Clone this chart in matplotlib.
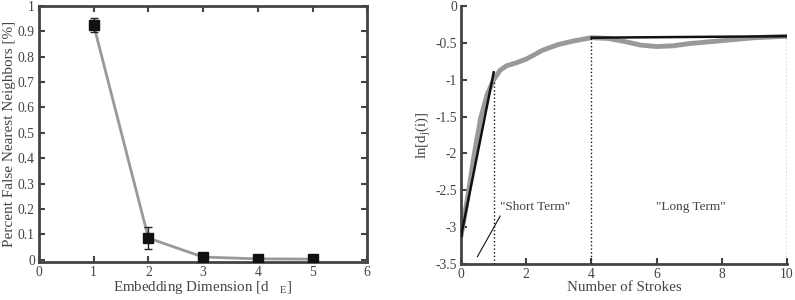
import numpy as np
import matplotlib
matplotlib.use("Agg")
import matplotlib.pyplot as plt

# ---- data ---------------------------------------------------------------
dims = [1, 2, 3, 4, 5]
fnn = [0.925, 0.085, 0.01, 0.003, 0.002]
fnn_err = [0.027, 0.045, 0.0, 0.0, 0.0]

strokes = [0.0, 0.2, 0.4, 0.6, 0.8, 1.0, 1.2, 1.4, 1.7, 2.0, 2.5, 3.0, 3.5,
           4.0, 4.5, 5.0, 5.5, 6.0, 6.5, 7.0, 7.5, 8.0, 8.5, 9.0, 9.5, 10.0]
ln_d = [-3.12, -2.6, -2.02, -1.52, -1.2, -1.0, -0.87, -0.81, -0.77, -0.72,
        -0.6, -0.52, -0.47, -0.43, -0.44, -0.48, -0.53, -0.55, -0.54, -0.51,
        -0.49, -0.47, -0.45, -0.43, -0.42, -0.41]

short_fit_x = [0, 1]
short_fit_y = [-3.12, -0.9]
long_fit_x = [4, 10]
long_fit_y = [-0.43, -0.41]

# ---- style --------------------------------------------------------------
plt.rcParams["font.family"] = ["Liberation Serif", "DejaVu Serif"]
plt.rcParams["mathtext.fontset"] = "custom"
plt.rcParams["mathtext.rm"] = "Liberation Serif"
plt.rcParams["mathtext.it"] = "Liberation Serif"
AX_COLOR = "#444444"
GRAY = "#999999"
TEXT = "#444444"

fig = plt.figure(figsize=(7.95, 3.0), dpi=100)
ax1 = fig.add_axes([0.049, 0.127, 0.413, 0.853])
ax2 = fig.add_axes([0.58, 0.12, 0.41, 0.86])

for ax in (ax1, ax2):
    for sp in ax.spines.values():
        sp.set_color(AX_COLOR)
        sp.set_linewidth(2.0)
    ax.tick_params(direction="in", colors=AX_COLOR, labelcolor=TEXT,
                   labelsize=9.8, width=1.5, length=4, pad=3)

# ---- left panel ---------------------------------------------------------
ax1.plot(dims, fnn, color=GRAY, lw=2.0, zorder=2)
ax1.errorbar(dims[:2], fnn[:2], yerr=fnn_err[:2], fmt="none",
             ecolor="#222222", elinewidth=1.0, capsize=3, zorder=3)
ax1.plot(dims, fnn, ls="none", marker="s", ms=7, color="#111111", zorder=4)
ax1.set_xlim(0, 6)
ax1.set_ylim(-0.009, 1.0)
ax1.set_xticks(range(0, 7))
ax1.set_yticks(np.arange(0, 1.01, 0.1))
ax1.set_yticklabels(["0", "0.1", "0.2", "0.3", "0.4", "0.5", "0.6", "0.7",
                     "0.8", "0.9", "1"])
ax1.tick_params(top=True, right=True)
ax1.set_xlabel(r"Embedding Dimension [d$\quad_{\rm E}$]", fontsize=10.8,
               color=TEXT, labelpad=0)
ax1.set_ylabel("Percent False Nearest Neighbors [%]", fontsize=11,
               color=TEXT, labelpad=1)

# ---- right panel --------------------------------------------------------
ax2.plot(strokes, ln_d, color=GRAY, lw=3.5, solid_capstyle="round", zorder=2)
ax2.plot(short_fit_x, short_fit_y, color="#111111", lw=1.8, zorder=3)
ax2.plot(long_fit_x, long_fit_y, color="#111111", lw=1.8, zorder=3)
for xv, ytop in [(1, -1.0), (4, -0.43), (10, -0.41)]:
    ax2.plot([xv, xv], [-3.5, ytop], color="#111111", lw=1.0, ls=":", zorder=3)
ax2.text(1.2, -2.72, '"Short Term"', fontsize=9.5, color=TEXT,
         ha="left", va="center")
ax2.plot([0.5, 1.2], [-3.4, -2.85], color="#111111", lw=0.8)
ax2.text(7.05, -2.72, '"Long Term"', fontsize=9.5, color=TEXT,
         ha="center", va="center")
ax2.set_xlim(0, 10)
ax2.set_ylim(-3.5, 0)
ax2.set_xticks(range(0, 11, 2))
ax2.set_yticks(np.arange(-3.5, 0.01, 0.5))
ax2.set_yticklabels(["-3.5", "-3", "-2.5", "-2", "-1.5", "-1", "-0.5", "0"])
ax2.spines["top"].set_visible(False)
ax2.spines["right"].set_visible(False)
ax2.set_xlabel("Number of Strokes", fontsize=10.8, color=TEXT, labelpad=0)
ax2.set_ylabel(r"ln[d$_{\rm j}$(i)]", fontsize=10.8, color=TEXT, labelpad=2)

fig.savefig("out.png", dpi=100)
